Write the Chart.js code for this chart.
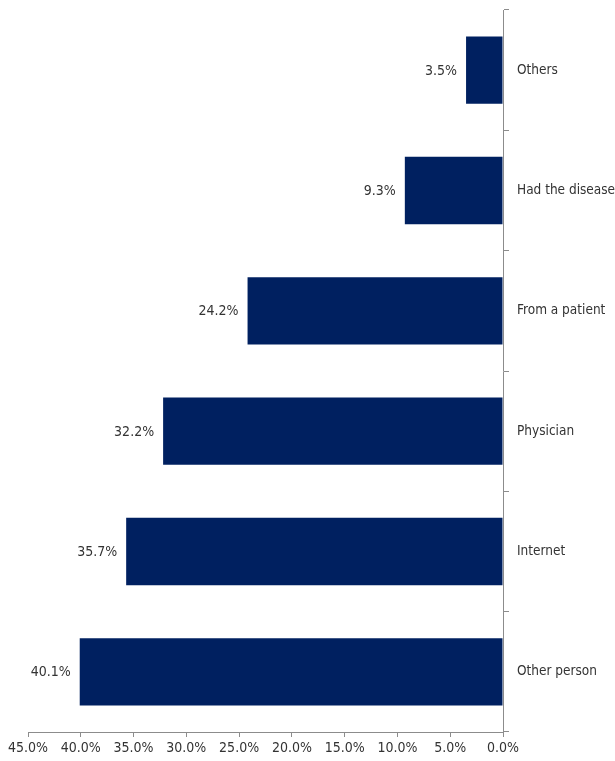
<!DOCTYPE html>
<html>
<head>
<meta charset="utf-8">
<script src="https://cdn.jsdelivr.net/npm/chart.js@4.4.0/dist/chart.umd.min.js"></script>
<style>
  html, body { margin: 0; padding: 0; background: #fff; }
  #wrap { width: 615px; height: 761px; position: relative; }
</style>
</head>
<body>
<div id="wrap"><canvas id="chart"></canvas></div>
<script>
const categories = ["Others", "Had the disease", "From a patient", "Physician", "Internet", "Other person"];
const shares = [3.5, 9.3, 24.2, 32.2, 35.7, 40.1];

const barColor = "#002060";
const axisColor = "#8c8c8c";
const textColor = "#333333";
const fontFamily = "'Liberation Sans Narrow', 'DejaVu Sans Condensed', 'Liberation Sans', sans-serif";

// draws the "xx.x%" text just left of each bar end
const valueLabels = {
    id: "valueLabels",
    afterDatasetsDraw(chart) {
        let ctx = chart.ctx;
        let meta = chart.getDatasetMeta(0);
        ctx.save();
        ctx.font = "14px " + fontFamily;
        ctx.fillStyle = textColor;
        ctx.textAlign = "right";
        ctx.textBaseline = "middle";
        meta.data.forEach((bar, i) => {
            ctx.fillText(shares[i].toFixed(1) + "%", bar.x - 9, bar.y + 1);
        });
        ctx.restore();
    }
};

const ctx = document.getElementById("chart");
const chart = new Chart(ctx, {
    type: "bar",
    data: {
        labels: categories,
        datasets: [{
            data: shares,
            backgroundColor: barColor,
            borderWidth: 0,
            categoryPercentage: 0.56,
            barPercentage: 1
        }]
    },
    options: {
        indexAxis: "y",
        responsive: true,
        maintainAspectRatio: false,
        animation: false,
        layout: {
            padding: { top: 10, left: 28, right: 0, bottom: 0 }
        },
        plugins: {
            legend: { display: false },
            tooltip: { enabled: false }
        },
        scales: {
            x: {
                reverse: true,
                min: 0,
                max: 45,
                afterFit(scale) { scale.height = 29; },
                ticks: {
                    stepSize: 5,
                    color: textColor,
                    font: { family: fontFamily, size: 14 },
                    padding: 3,
                    maxRotation: 0,
                    callback: v => v.toFixed(1) + "%"
                },
                grid: {
                    drawOnChartArea: false,
                    drawTicks: true,
                    tickLength: 5,
                    color: axisColor
                },
                border: { color: axisColor, width: 1 }
            },
            y: {
                position: "right",
                afterFit(scale) {
                    scale.width = 112;
                    scale.paddingTop = 0;
                    scale.paddingBottom = 0;
                },
                ticks: {
                    color: textColor,
                    font: { family: fontFamily, size: 13.5 },
                    padding: 8
                },
                grid: {
                    drawOnChartArea: false,
                    drawTicks: true,
                    tickLength: 6,
                    offset: true,
                    color: axisColor
                },
                border: { color: axisColor, width: 1 }
            }
        }
    },
    plugins: [valueLabels]
});
</script>
</body>
</html>
